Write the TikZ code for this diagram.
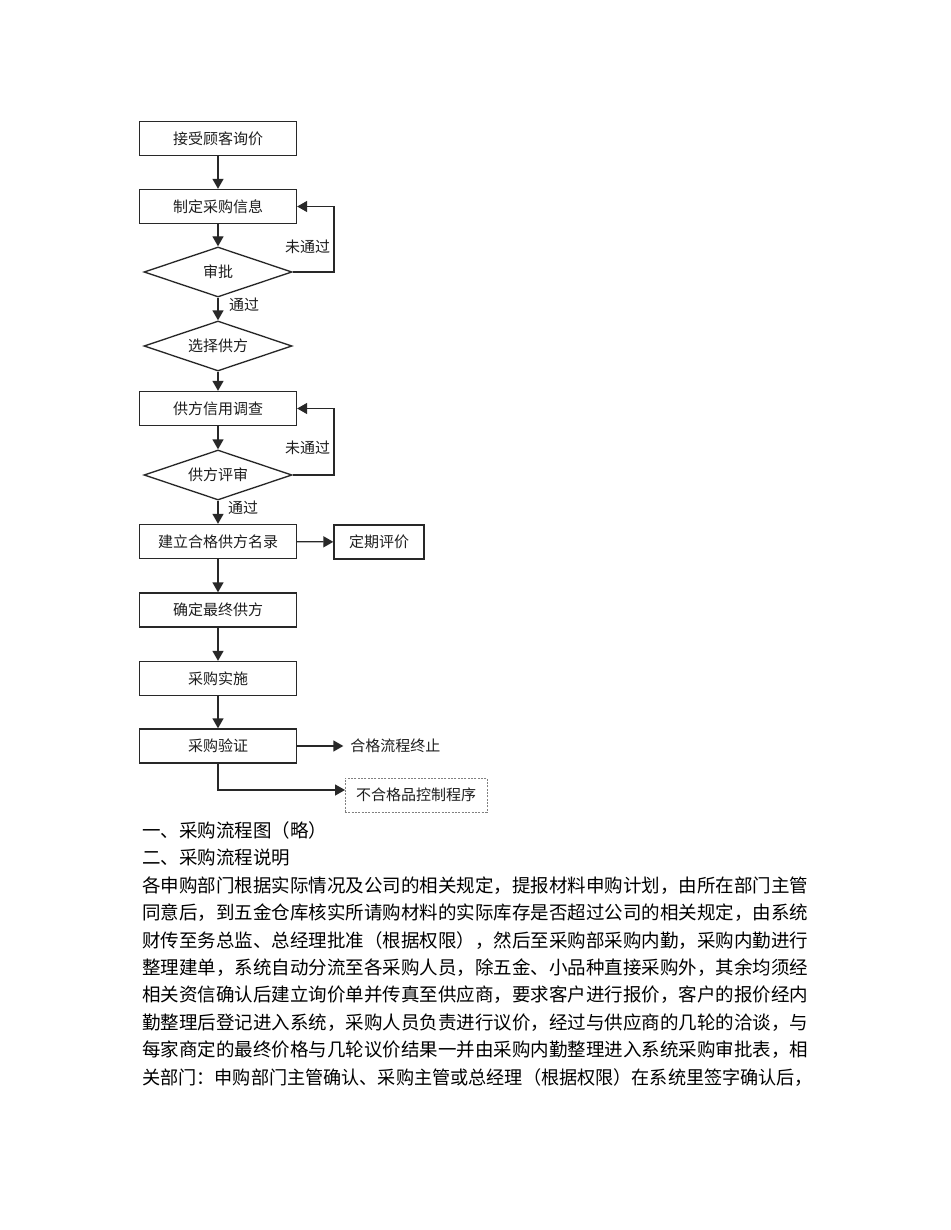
\documentclass[tikz,border=0pt]{standalone}
\usepackage{fontspec}
\setmainfont{Noto Sans CJK SC}
\usetikzlibrary{arrows.meta,shapes.geometric}
\definecolor{ln}{RGB}{40,40,40}
\definecolor{tx}{RGB}{30,30,30}
\newcommand\flowfont{\fontsize{11.25pt}{13pt}\selectfont}
\newcommand\bodyfont{\fontsize{13.875pt}{16pt}\selectfont}
\begin{document}
\begin{tikzpicture}[x=0.75pt,y=-0.75pt,
  box/.style={draw=ln,line width=1pt,rectangle,minimum width=117.75pt,minimum height=25.5pt,inner sep=0pt,font=\flowfont,text=tx,text height=9.9pt,text depth=1.35pt},
  dia/.style={draw=ln,line width=1pt,diamond,aspect=3,minimum width=111pt,minimum height=37.5pt,inner sep=0pt,font=\flowfont,text=tx,text height=9.9pt,text depth=1.35pt},
  lbl/.style={inner sep=0pt,font=\flowfont,text=tx,text height=9.9pt,text depth=1.35pt},
  arr/.style={draw=ln,line width=1pt,-{Triangle[length=7.5pt,width=8.25pt]}},
  para/.style={anchor=west,inner sep=0pt,font=\bodyfont,text=black,text height=12.2pt,text depth=1.7pt}]
\useasboundingbox (0,0) rectangle (950,1230);
\fill[white] (0,0) rectangle (950,1230);

% flowchart nodes
\node[box] (b1) at (218,138.5) {接受顾客询价};
\node[box] (b2) at (218,206.5) {制定采购信息};
\node[dia] (d1) at (218,272) {审批};
\node[dia] (d2) at (218,346) {选择供方};
\node[box] (b3) at (218,408.5) {供方信用调查};
\node[dia] (d3) at (218,475) {供方评审};
\node[box] (b4) at (218,541.5) {建立合格供方名录};
\node[box,minimum width=67.5pt] (b5) at (379,542) {定期评价};
\node[box] (b6) at (218,610) {确定最终供方};
\node[box] (b7) at (218,678.5) {采购实施};
\node[box] (b8) at (218,746) {采购验证};
\node[lbl,anchor=west] (t1) at (350,746) {合格流程终止};
\node[box,draw=gray,line width=0.7pt,dash pattern=on 1.5pt off 1pt,minimum width=106.5pt] (b9) at (416,795) {不合格品控制程序};

\node[lbl] (n1) at (307.5,247) {未通过};
\node[lbl] (p1) at (244,305) {通过};
\node[lbl] (n2) at (307.5,448) {未通过};
\node[lbl] (p2) at (243,508) {通过};

\coordinate (r1) at (334,0);
\coordinate (c9) at (345,790);

% connectors
\draw[arr] (b1) -- (b2);
\draw[arr] (b2) -- (d1);
\draw[arr] (d1) -- (d2);
\draw[arr] (d1.east) -- (d1.east -| r1) |- (b2.east);
\draw[arr] (d2) -- (b3);
\draw[arr] (b3) -- (d3);
\draw[arr] (d3.east) -- (d3.east -| r1) |- (b3.east);
\draw[arr] (d3) -- (b4);
\draw[arr] (b4) -- (b5);
\draw[arr] (b4) -- (b6);
\draw[arr] (b6) -- (b7);
\draw[arr] (b7) -- (b8);
\draw[arr,shorten >=5pt] (b8.east) -- (b8.east -| t1.west);
\draw[arr] (b8.south) |- (c9);

% text
\node[para] (h1) at (142,830.5) {一、采购流程图（略）};
\node[para] (h2) at (142,857.9) {二、采购流程说明};
\node[para] (l1) at (142,885.3) {各申购部门根据实际情况及公司的相关规定，提报材料申购计划，由所在部门主管};
\node[para] (l2) at (142,912.7) {同意后，到五金仓库核实所请购材料的实际库存是否超过公司的相关规定，由系统};
\node[para] (l3) at (142,940.1) {财传至务总监、总经理批准（根据权限），然后至采购部采购内勤，采购内勤进行};
\node[para] (l4) at (142,967.5) {整理建单，系统自动分流至各采购人员，除五金、小品种直接采购外，其余均须经};
\node[para] (l5) at (142,994.9) {相关资信确认后建立询价单并传真至供应商，要求客户进行报价，客户的报价经内};
\node[para] (l6) at (142,1022.3) {勤整理后登记进入系统，采购人员负责进行议价，经过与供应商的几轮的洽谈，与};
\node[para] (l7) at (142,1049.7) {每家商定的最终价格与几轮议价结果一并由采购内勤整理进入系统采购审批表，相};
\node[para] (l8) at (142,1077.1) {\scalebox{0.98}[1]{关部门：申购部门主管确认、采购主管或总经理（根据权限）在系统里签字确认后，}};
\end{tikzpicture}
\end{document}
